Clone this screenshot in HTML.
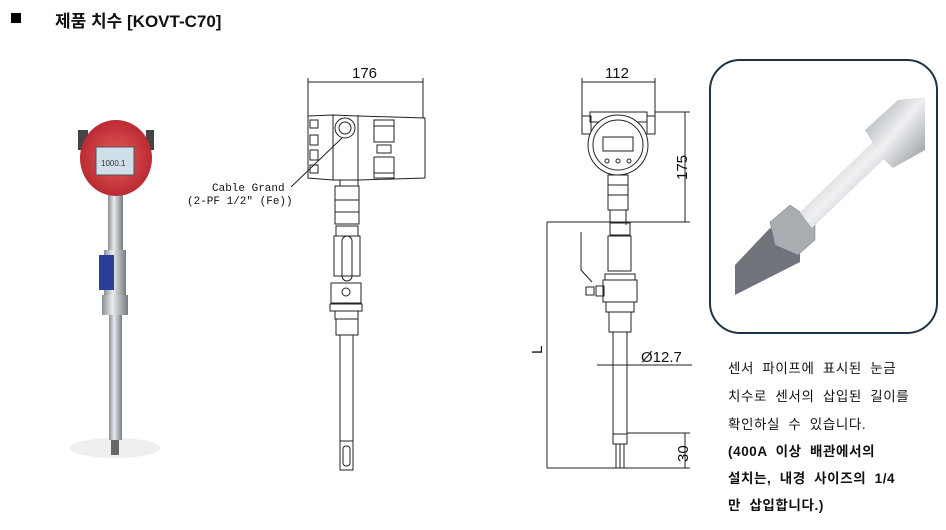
<!DOCTYPE html>
<html><head><meta charset="utf-8"><style>
body{margin:0;background:#fff;width:946px;height:525px;overflow:hidden;font-family:"Liberation Sans","Noto Sans CJK KR",sans-serif}
</style></head><body>
<svg width="946" height="525" viewBox="0 0 946 525" xmlns="http://www.w3.org/2000/svg" font-family="Liberation Sans, Noto Sans CJK KR, sans-serif">
<defs>
<linearGradient id="steel" x1="0" x2="1"><stop offset="0" stop-color="#8a8f96"/><stop offset="0.4" stop-color="#e8eaec"/><stop offset="1" stop-color="#777c82"/></linearGradient>
<linearGradient id="rod" x1="0" y1="0" x2="1" y2="1"><stop offset="0" stop-color="#9a9ea4"/><stop offset="0.5" stop-color="#eef0f2"/><stop offset="1" stop-color="#8c9096"/></linearGradient>
<radialGradient id="red" cx="0.5" cy="0.5" r="0.6"><stop offset="0" stop-color="#e35a5a"/><stop offset="1" stop-color="#b3222a"/></radialGradient>
</defs>
<!-- title -->
<rect x="11" y="13" width="10" height="10" fill="#000"/>
<text x="55" y="27" font-size="17" font-weight="bold" fill="#111">제품 치수 [KOVT-C70]</text>

<!-- product photo -->
<ellipse cx="115" cy="448" rx="45" ry="10" fill="#eee"/>
<rect x="108" y="195" width="15" height="60" fill="url(#steel)"/>
<rect x="104" y="250" width="22" height="50" fill="url(#steel)"/>
<rect x="99" y="255" width="15" height="35" fill="#2b3f9a"/>
<rect x="102" y="295" width="26" height="20" fill="url(#steel)"/>
<rect x="109" y="315" width="13" height="125" fill="url(#steel)"/>
<rect x="111" y="440" width="8" height="15" fill="#666"/>
<rect x="78" y="130" width="10" height="20" fill="#444"/>
<rect x="146" y="130" width="8" height="20" fill="#444"/>
<ellipse cx="116" cy="158" rx="36" ry="38" fill="url(#red)"/>
<rect x="96" y="147" width="38" height="28" fill="#cfe0ea" stroke="#555"/>
<text x="101" y="166" font-size="8" fill="#333">1000.1</text>

<g stroke="#222" fill="none" stroke-width="1">
<!-- side view -->
<line x1="308" y1="82" x2="423" y2="82"/>
<line x1="308" y1="78" x2="308" y2="118"/><line x1="423" y1="78" x2="423" y2="118"/>
<path d="M308 116 L333 115 L358 116 L425 118 L425 178 L358 180 L333 180 L308 178 Z" fill="#fff"/>
<line x1="333" y1="115" x2="333" y2="180"/><line x1="358" y1="115" x2="358" y2="180"/>
<rect x="310" y="120" width="8" height="8"/><rect x="310" y="135" width="8" height="10"/><rect x="310" y="150" width="8" height="10"/><rect x="310" y="165" width="8" height="8"/>
<rect x="374" y="120" width="20" height="6"/><rect x="374" y="126" width="20" height="16"/><rect x="377" y="145" width="14" height="8"/><rect x="374" y="157" width="20" height="16"/><rect x="374" y="173" width="20" height="5"/>
<circle cx="345" cy="128" r="10"/><circle cx="345" cy="128" r="6"/>
<line x1="342" y1="138" x2="291" y2="187"/>
<rect x="340" y="180" width="18" height="6"/>
<rect x="335" y="186" width="24" height="38"/><line x1="335" y1="200" x2="359" y2="200"/><line x1="335" y1="212" x2="359" y2="212"/>
<rect x="336" y="226" width="22" height="10"/>
<rect x="334" y="236" width="26" height="40"/><rect x="342" y="236" width="10" height="45" rx="5"/>
<rect x="331" y="283" width="30" height="20"/><circle cx="346" cy="292" r="4"/>
<rect x="330" y="304" width="32" height="7"/>
<rect x="335" y="311" width="23" height="8"/><rect x="336" y="319" width="22" height="16"/>
<rect x="340" y="335" width="13" height="106"/>
<rect x="340" y="441" width="13" height="29"/><rect x="343" y="446" width="7" height="20" rx="3"/>

<!-- front view -->
<line x1="582" y1="82" x2="655" y2="82"/>
<line x1="582" y1="78" x2="582" y2="118"/><line x1="655" y1="78" x2="655" y2="118"/>
<rect x="590" y="112" width="57" height="10" fill="#fff"/>
<rect x="582" y="116" width="9" height="18"/><rect x="647" y="116" width="8" height="18"/>
<circle cx="618" cy="145" r="30" fill="#fff"/><circle cx="618" cy="145" r="25"/>
<rect x="603" y="137" width="30" height="14"/>
<circle cx="607" cy="161" r="2"/><circle cx="618" cy="161" r="2"/><circle cx="629" cy="161" r="2"/>
<rect x="608" y="175" width="20" height="10"/>
<rect x="608" y="185" width="20" height="25"/><line x1="608" y1="195" x2="628" y2="195"/>
<line x1="610" y1="210" x2="610" y2="225"/><line x1="626" y1="210" x2="626" y2="225"/>
<line x1="655" y1="112" x2="690" y2="112"/>
<line x1="685" y1="112" x2="685" y2="222"/>
<line x1="547" y1="222" x2="690" y2="222"/>
<line x1="547" y1="222" x2="547" y2="468"/>
<rect x="610" y="223" width="20" height="12"/>
<rect x="608" y="236" width="23" height="35"/>
<rect x="605" y="274" width="30" height="6"/>
<rect x="603" y="280" width="34" height="22"/>
<path d="M581 232 L581 270 L592 282"/>
<rect x="586" y="287" width="8" height="8"/><rect x="596" y="286" width="8" height="10"/>
<rect x="606" y="302" width="28" height="10"/>
<rect x="609" y="312" width="22" height="20"/>
<rect x="613" y="332" width="14" height="102"/>
<rect x="613" y="434" width="14" height="10"/>
<line x1="616" y1="444" x2="616" y2="468"/><line x1="620" y1="444" x2="620" y2="468"/><line x1="624" y1="444" x2="624" y2="468"/>
<line x1="597" y1="365" x2="692" y2="365"/>
<line x1="627" y1="433" x2="690" y2="433"/>
<line x1="685" y1="433" x2="685" y2="468"/>
<line x1="547" y1="468" x2="690" y2="468"/>
</g>
<g font-size="15" fill="#111">
<text x="352" y="78">176</text>
<text x="605" y="78">112</text>
<text x="641" y="362">Ø12.7</text>
<text transform="translate(687,180) rotate(-90)">175</text>
<text transform="translate(688,462) rotate(-90)">30</text>
<text transform="translate(542,354) rotate(-90)">L</text>
</g>
<g font-family="Liberation Mono, monospace" font-size="11" fill="#111">
<text x="212" y="191">Cable Grand</text>
<text x="187" y="204">(2-PF 1/2" (Fe))</text>
</g>

<!-- photo box -->
<rect x="710" y="60" width="227" height="273" rx="30" fill="#fff" stroke="#1d3344" stroke-width="2"/>
<polygon points="735,265 770,228 800,250 800,262 735,295" fill="#6f747b"/>
<polygon points="770,222 790,205 815,222 815,240 798,255 775,245" fill="#a9adb2" stroke="#777" stroke-width="0.5"/>
<polygon points="800,212 875,140 888,155 812,228" fill="url(#rod)"/>
<polygon points="865,130 898,100 925,97 925,150 893,168 882,158" fill="url(#rod)"/>

<g font-size="13.5" fill="#111" word-spacing="4" letter-spacing="0.6">
<text x="728" y="373">센서 파이프에 표시된 눈금</text>
<text x="728" y="401">치수로 센서의 삽입된 길이를</text>
<text x="728" y="429">확인하실 수 있습니다.</text>
<g font-weight="bold">
<text x="728" y="456">(400A 이상 배관에서의</text>
<text x="728" y="483">설치는, 내경 사이즈의 1/4</text>
<text x="728" y="510">만 삽입합니다.)</text>
</g></g>
</svg>
</body></html>
